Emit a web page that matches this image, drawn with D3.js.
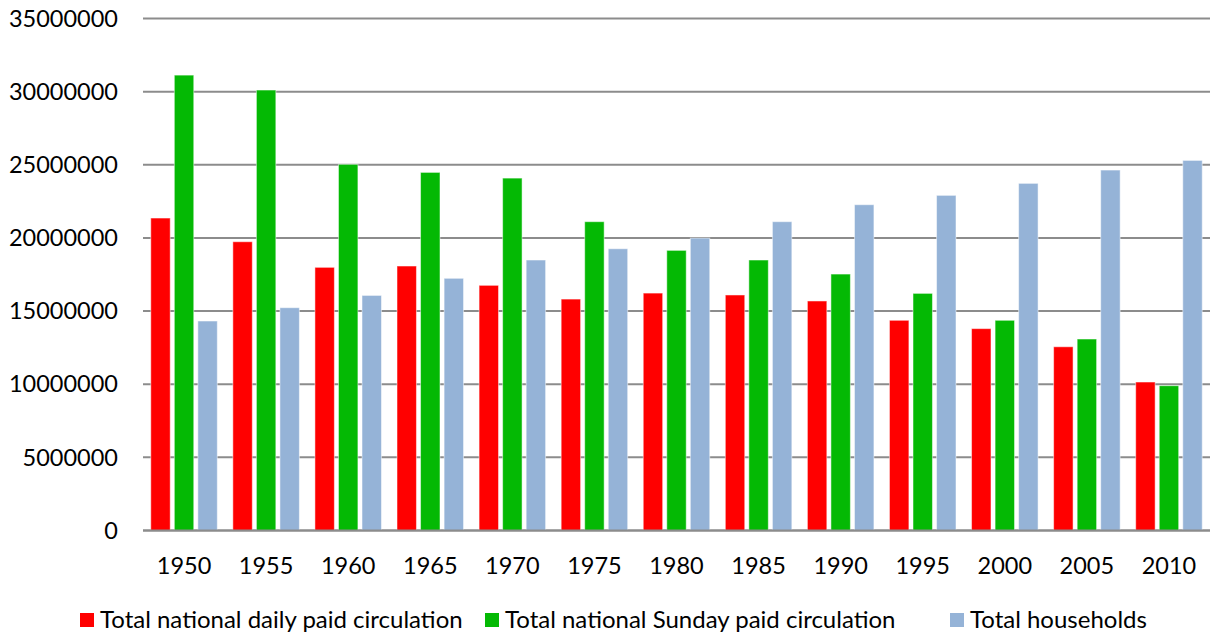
<!DOCTYPE html>
<html>
<head>
<meta charset="utf-8">
<script src="https://cdn.jsdelivr.net/npm/d3@7"></script>
<style>
  body { margin: 0; background: #fff; }
  text { font-family: Lato, "Open Sans", sans-serif; fill: #000; }
</style>
</head>
<body>
<div id="chart"></div>
<script>
var years = ["1950", "1955", "1960", "1965", "1970", "1975", "1980", "1985", "1990", "1995", "2000", "2005", "2010"];
var seriesNames = ["Total national daily paid circulation", "Total national Sunday paid circulation", "Total households"];
var seriesColors = ["#ff0000", "#04b904", "#95b3d7"];
var dailyPaid = [21360000, 19740000, 17990000, 18080000, 16760000, 15820000, 16230000, 16100000, 15690000, 14370000, 13800000, 12560000, 10150000];
var sundayPaid = [31130000, 30110000, 25030000, 24480000, 24090000, 21110000, 19150000, 18490000, 17530000, 16210000, 14370000, 13090000, 9900000];
var households = [14320000, 15230000, 16070000, 17240000, 18490000, 19260000, 19990000, 21110000, 22270000, 22910000, 23730000, 24640000, 25300000];
var yTicks = [0, 5000000, 10000000, 15000000, 20000000, 25000000, 30000000, 35000000];

var svgWidth = 1213, svgHeight = 636;
var margin = { top: 18.5, right: 3, bottom: 105.5, left: 143 };
var width = svgWidth - margin.left - margin.right;
var height = svgHeight - margin.top - margin.bottom;

var svg = d3.select("#chart").append("svg")
    .attr("width", svgWidth)
    .attr("height", svgHeight);

var g = svg.append("g")
    .attr("transform", "translate(" + margin.left + "," + margin.top + ")");

var series = [dailyPaid, sundayPaid, households];

var x0 = d3.scaleBand()
    .domain(years)
    .range([0, width]);

var x1 = d3.scaleBand()
    .domain(d3.range(series.length))
    .range([0, x0.bandwidth()])
    .paddingInner(0.174)
    .paddingOuter(0.33);

var y = d3.scaleLinear()
    .domain([0, 35000000])
    .range([height, 0]);

// gridlines
g.append("g")
    .selectAll("line")
    .data(yTicks)
    .enter().append("line")
    .attr("x1", 0)
    .attr("x2", width)
    .attr("y1", function(d) { return y(d); })
    .attr("y2", function(d) { return y(d); })
    .attr("stroke", "#8c8c8c")
    .attr("stroke-width", 2);

// y axis labels
g.append("g")
    .selectAll("text")
    .data(yTicks)
    .enter().append("text")
    .attr("x", -25)
    .attr("y", function(d) { return y(d); })
    .attr("dy", "0.35em")
    .attr("text-anchor", "end")
    .attr("font-size", "23.5px")
    .text(function(d) { return d; });

// bars
var groups = g.append("g")
    .selectAll("g")
    .data(years)
    .enter().append("g")
    .attr("transform", function(d) { return "translate(" + x0(d) + ",0)"; });

groups.selectAll("rect")
    .data(function(d, i) { return series.map(function(s, k) { return { k: k, v: s[i] }; }); })
    .enter().append("rect")
    .attr("x", function(d) { return x1(d.k); })
    .attr("width", x1.bandwidth())
    .attr("y", function(d) { return y(d.v); })
    .attr("height", function(d) { return height - y(d.v); })
    .attr("fill", function(d) { return seriesColors[d.k]; })
    .attr("stroke", "#ffffff")
    .attr("stroke-opacity", 0.5)
    .attr("stroke-width", 1);

// x axis baseline
g.append("line")
    .attr("x1", 0)
    .attr("x2", width)
    .attr("y1", height)
    .attr("y2", height)
    .attr("stroke", "#8c8c8c")
    .attr("stroke-width", 2);

// x labels
g.append("g")
    .selectAll("text")
    .data(years)
    .enter().append("text")
    .attr("x", function(d) { return x0(d) + x0.bandwidth() / 2; })
    .attr("y", height + 35)
    .attr("dy", "0.35em")
    .attr("text-anchor", "middle")
    .attr("font-size", "23.5px")
    .text(function(d) { return d; });

// legend
var legendX = [80, 485, 950];
var legend = svg.append("g")
    .selectAll("g")
    .data(seriesNames)
    .enter().append("g")
    .attr("transform", function(d, i) { return "translate(" + legendX[i] + ",620)"; });

legend.append("rect")
    .attr("x", 0)
    .attr("y", -7)
    .attr("width", 14)
    .attr("height", 14)
    .attr("fill", function(d, i) { return seriesColors[i]; });

legend.append("text")
    .attr("x", 20)
    .attr("y", 0)
    .attr("dy", "0.35em")
    .attr("font-size", "24px")
    .text(function(d) { return d; });
</script>
</body>
</html>
